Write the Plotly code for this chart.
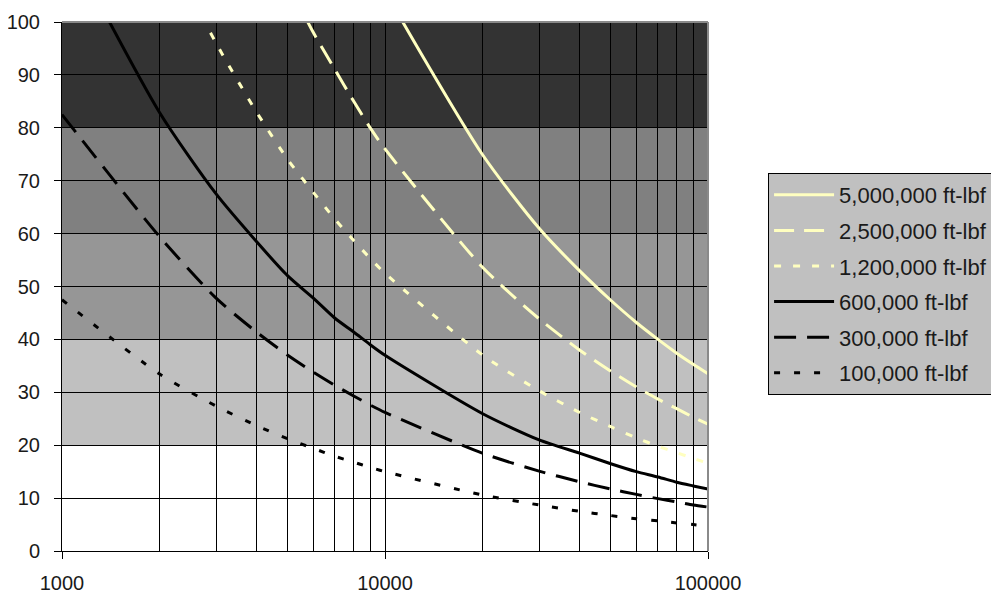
import plotly.graph_objects as go

# Impact energy axis values (x)
energy_x = [1000, 2000, 3000, 4000, 5000, 6000, 7000, 8000, 9000, 10000,
            20000, 30000, 40000, 50000, 60000, 70000, 80000, 90000, 100000]

y_5000000 = [335, 237, 193, 167, 150, 137, 127, 118.5, 112, 106,
             75, 61, 53, 47.4, 43.2, 40, 37.4, 35.3, 33.5]
y_2500000 = [240, 170, 139, 120, 107.5, 98, 91, 85, 80, 76,
             53.7, 43.9, 38, 34, 31, 28.7, 26.9, 25.3, 24]
y_1200000 = [164, 117, 96, 83, 74, 67.8, 62.7, 58.7, 55.3, 52.5,
             37.1, 30.3, 26.2, 23.5, 21.4, 19.8, 18.6, 17.5, 16.6]
y_600000 = [117, 83, 67.5, 58.5, 52, 47.8, 44, 41.4, 39, 37,
            26, 21, 18.5, 16.5, 15, 14, 13, 12.3, 11.7]
y_300000 = [82.5, 59.5, 47.8, 41.4, 37, 33.8, 31.3, 29.3, 27.6, 26.2,
            18.5, 15.1, 13.1, 11.7, 10.7, 9.9, 9.3, 8.7, 8.3]
y_100000 = [47.5, 33.5, 27.4, 23.7, 21.2, 19.4, 17.9, 16.8, 15.8, 15,
            10.6, 8.7, 7.5, 6.7, 6.1, 5.7, 5.3, 5.0, 4.7]

series_names = ["5,000,000 ft-lbf", "2,500,000 ft-lbf", "1,200,000 ft-lbf",
                "600,000 ft-lbf", "300,000 ft-lbf", "100,000 ft-lbf"]
series_values = [y_5000000, y_2500000, y_1200000, y_600000, y_300000, y_100000]

x_major_ticks = [1000, 10000, 100000]
x_minor_ticks = [2000, 3000, 4000, 5000, 6000, 7000, 8000, 9000,
                 20000, 30000, 40000, 50000, 60000, 70000, 80000, 90000]

# background bands (y from, y to, colour)
band_edges = [0, 20, 40, 60, 80, 100]
band_colors = ["#ffffff", "#c0c0c0", "#969696", "#808080", "#333333"]

YEL = "#ffffc0"
styles = [
    dict(color=YEL, width=3, dash="solid"),
    dict(color=YEL, width=3, dash="20px,10px"),
    dict(color=YEL, width=3, dash="7px,12px"),
    dict(color="black", width=3, dash="solid"),
    dict(color="black", width=3, dash="22px,11px"),
    dict(color="black", width=3, dash="6px,14px"),
]

FONT = "Arial, Liberation Sans, sans-serif"

fig = go.Figure()
for i, (name, vals) in enumerate(zip(series_names, series_values)):
    fig.add_trace(go.Scatter(x=energy_x, y=vals, mode="lines", name=name,
                             line=dict(**styles[i], shape="spline", smoothing=0.7),
                             legendgroup=f"g{i}"))

for i, c in enumerate(band_colors):
    fig.add_shape(type="rect", xref="x domain", yref="y", x0=0, x1=1,
                  y0=band_edges[i], y1=band_edges[i + 1],
                  fillcolor=c, line_width=0, layer="below")

# grey frame on top and right of the plot area
fig.add_shape(type="line", xref="x domain", yref="y domain", x0=0, x1=1,
              y0=1, y1=1, line=dict(color="#8a8a8a", width=2))
fig.add_shape(type="line", xref="x domain", yref="y domain", x0=1, x1=1,
              y0=0, y1=1, line=dict(color="#8a8a8a", width=2))

fig.update_layout(
    width=991, height=586,
    margin=dict(l=54, r=291, t=14, b=43, autoexpand=False),
    paper_bgcolor="white", plot_bgcolor="white",
    font=dict(family=FONT, size=20, color="#1a1a1a"),
    showlegend=True,
    legend=dict(x=1.093, y=0.7146, xanchor="left", yanchor="top",
                bgcolor="#c0c0c0", bordercolor="black", borderwidth=1,
                font=dict(family=FONT, size=22, color="#1a1a1a"),
                traceorder="grouped", tracegroupgap=4, itemwidth=60),
    xaxis=dict(type="log", range=[3, 5], tickvals=x_major_ticks,
               ticktext=[str(v) for v in x_major_ticks],
               ticks="outside", ticklen=7, tickcolor="black",
               showgrid=True, gridcolor="black", gridwidth=1,
               showline=True, linecolor="black", linewidth=1,
               ticklabelstandoff=7, automargin=False,
               minor=dict(tickvals=x_minor_ticks, showgrid=True,
                          gridcolor="black", gridwidth=1, ticks="")),
    yaxis=dict(range=[0, 100], dtick=10, tick0=0,
               ticks="outside", ticklen=7, tickcolor="black",
               showgrid=True, gridcolor="black", gridwidth=1,
               showline=True, linecolor="black", linewidth=1,
               zeroline=False, ticklabelstandoff=10, automargin=False),
)
fig.write_html("out.html")
